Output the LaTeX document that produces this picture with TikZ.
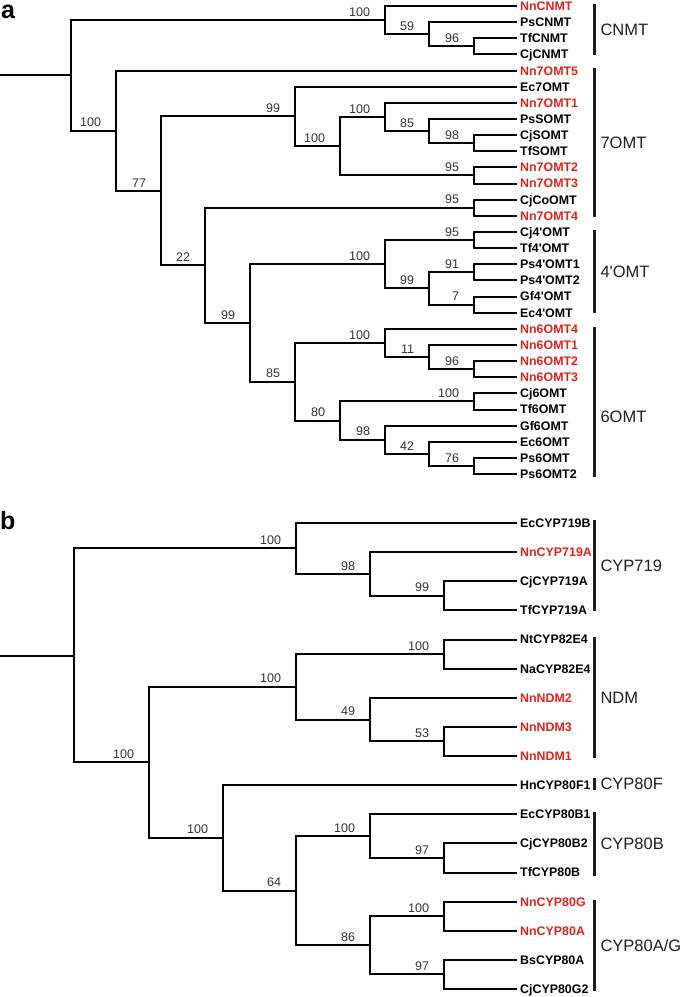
\documentclass[tikz,border=0pt]{standalone}
\usepackage{fontspec}
\setmainfont{Liberation Sans}
\usepackage{xcolor}
\definecolor{treeRed}{HTML}{E3231E}
\definecolor{treeGrey}{HTML}{333333}
\definecolor{treeDark}{HTML}{1E1E1E}

\begin{document}
\begin{tikzpicture}[x=1pt,y=-1pt]
    \tikzset{
        branch/.style={line width=2pt,black},
        bar/.style={line width=3pt,treeDark},
        leaf/.style={anchor=west,inner xsep=3pt,inner ysep=0pt,text height=8.9pt,text depth=0pt,font=\bfseries\fontsize{12.4}{13}\selectfont},
        boot/.style={anchor=south east,inner sep=0pt,xshift=-14pt,yshift=2.8pt,text=treeGrey,font=\fontsize{12.5}{12.5}\selectfont},
        grp/.style={anchor=west,inner sep=0pt,xshift=5pt,text height=11.8pt,text depth=0pt,text=treeDark,font=\fontsize{16.5}{18}\selectfont},
        panel/.style={anchor=base west,inner sep=0pt,font=\bfseries\fontsize{25}{25}\selectfont}
    }
    \useasboundingbox (0,0) rectangle (685,997);
    \node[panel] (panelA) at (1,18) {a};
    \node[panel] (panelB) at (0,529) {b};
    \begin{scope}[yshift=-6pt,y=-16.14pt]
        \coordinate (stubA) at (0,4.30);
        \coordinate (rootA) at (71,4.30);
        \coordinate (cnmt) at (385,0.875);
        \coordinate (n59) at (429,1.75);
        \coordinate (n96a) at (474,2.5);
        \coordinate (n100a) at (116,7.73);
        \coordinate (n77) at (161,11.46);
        \coordinate (n99a) at (295,6.84);
        \coordinate (n100b) at (340,8.6875);
        \coordinate (n100c) at (385,6.875);
        \coordinate (n85a) at (429,7.75);
        \coordinate (n98a) at (474,8.5);
        \coordinate (n95a) at (474,10.5);
        \coordinate (n22) at (205,16.07);
        \coordinate (n95b) at (474,12.5);
        \coordinate (n99b) at (250,19.64);
        \coordinate (n100d) at (385,16);
        \coordinate (n95c) at (474,14.5);
        \coordinate (n99c) at (429,17.5);
        \coordinate (n91) at (474,16.5);
        \coordinate (n7) at (474,18.5);
        \coordinate (n85b) at (295,23.28);
        \coordinate (n100e) at (385,20.875);
        \coordinate (n11) at (429,21.75);
        \coordinate (n96b) at (474,22.5);
        \coordinate (n80) at (340,25.6875);
        \coordinate (n100f) at (474,24.5);
        \coordinate (n98b) at (385,26.875);
        \coordinate (n42) at (429,27.75);
        \coordinate (n76) at (474,28.5);
        \draw[branch] (stubA) -- (rootA);
        \foreach \up/\dn/\bs in {rootA/cnmt/100,cnmt/n59/59,n59/n96a/96,
            rootA/n100a/100,n100a/n77/77,n77/n99a/99,n99a/n100b/100,n100b/n100c/100,n100c/n85a/85,n85a/n98a/98,n100b/n95a/95,
            n77/n22/22,n22/n95b/95,n22/n99b/99,n99b/n100d/100,n100d/n95c/95,n100d/n99c/99,n99c/n91/91,n99c/n7/7,
            n99b/n85b/85,n85b/n100e/100,n100e/n11/11,n11/n96b/96,n85b/n80/80,n80/n100f/100,n80/n98b/98,n98b/n42/42,n42/n76/76}
            \draw[branch] (\up) |- (\dn) node[boot] (b\dn) {\bs};
        \foreach \lab/\col/\up [count=\i from 0] in {
            NnCNMT/treeRed/cnmt, PsCNMT/black/n59, TfCNMT/black/n96a, CjCNMT/black/n96a,
            Nn7OMT5/treeRed/n100a, Ec7OMT/black/n99a, Nn7OMT1/treeRed/n100c, PsSOMT/black/n85a,
            CjSOMT/black/n98a, TfSOMT/black/n98a, Nn7OMT2/treeRed/n95a, Nn7OMT3/treeRed/n95a,
            CjCoOMT/black/n95b, Nn7OMT4/treeRed/n95b, Cj4\textquotesingle OMT/black/n95c, Tf4\textquotesingle OMT/black/n95c,
            Ps4\textquotesingle OMT1/black/n91, Ps4\textquotesingle OMT2/black/n91, Gf4\textquotesingle OMT/black/n7, Ec4\textquotesingle OMT/black/n7,
            Nn6OMT4/treeRed/n100e, Nn6OMT1/treeRed/n11, Nn6OMT2/treeRed/n96b, Nn6OMT3/treeRed/n96b,
            Cj6OMT/black/n100f, Tf6OMT/black/n100f, Gf6OMT/black/n98b, Ec6OMT/black/n42,
            Ps6OMT/black/n76, Ps6OMT2/black/n76}{
            \node[leaf,text=\col] (la\i) at (517,\i) {\lab};
            \draw[branch] (\up) |- (la\i.west);
        }
    \end{scope}
    \begin{scope}[yshift=-523pt,y=-29.125pt]
        \coordinate (stubB) at (0,4.55);
        \coordinate (rootB) at (74,4.55);
        \coordinate (bP100) at (296,0.875);
        \coordinate (bP98) at (370,1.75);
        \coordinate (bP99) at (444,2.5);
        \coordinate (bS100) at (149,8.22);
        \coordinate (bQ100) at (296,5.625);
        \coordinate (bQ100b) at (444,4.5);
        \coordinate (bQ49) at (370,6.75);
        \coordinate (bQ53) at (444,7.5);
        \coordinate (bR100) at (223,10.81);
        \coordinate (bR64) at (296,12.625);
        \coordinate (bR100b) at (370,10.75);
        \coordinate (bR97) at (444,11.5);
        \coordinate (bG86) at (370,14.5);
        \coordinate (bG100) at (444,13.5);
        \coordinate (bG97) at (444,15.5);
        \draw[branch] (stubB) -- (rootB);
        \foreach \up/\dn/\bs in {rootB/bP100/100,bP100/bP98/98,bP98/bP99/99,
            rootB/bS100/100,bS100/bQ100/100,bQ100/bQ100b/100,bQ100/bQ49/49,bQ49/bQ53/53,
            bS100/bR100/100,bR100/bR64/64,bR64/bR100b/100,bR100b/bR97/97,bR64/bG86/86,bG86/bG100/100,bG86/bG97/97}
            \draw[branch] (\up) |- (\dn) node[boot] (b\dn) {\bs};
        \foreach \lab/\col/\up [count=\i from 0] in {
            EcCYP719B/black/bP100, NnCYP719A/treeRed/bP98, CjCYP719A/black/bP99, TfCYP719A/black/bP99,
            NtCYP82E4/black/bQ100b, NaCYP82E4/black/bQ100b, NnNDM2/treeRed/bQ49, NnNDM3/treeRed/bQ53,
            NnNDM1/treeRed/bQ53, HnCYP80F1/black/bR100, EcCYP80B1/black/bR100b, CjCYP80B2/black/bR97,
            TfCYP80B/black/bR97, NnCYP80G/treeRed/bG100, NnCYP80A/treeRed/bG100, BsCYP80A/black/bG97,
            CjCYP80G2/black/bG97}{
            \node[leaf,text=\col] (lb\i) at (517,\i) {\lab};
            \draw[branch] (\up) |- (lb\i.west);
        }
    \end{scope}
    \foreach \ya/\yb/\p/\g [count=\k] in {4/55/.5/CNMT,68/217/.5/7OMT,230/313/.5/4\textquotesingle OMT,327/477/.6/6OMT,
        520/611/.5/CYP719,637/758/.5/NDM,778/790/.5/CYP80F,812/876/.5/CYP80B,900/991/.5/{CYP80A/G}}
        \draw[bar] (594,\ya) -- (594,\yb) node[grp,pos=\p] (grp\k) {\g};
\end{tikzpicture}
\end{document}
